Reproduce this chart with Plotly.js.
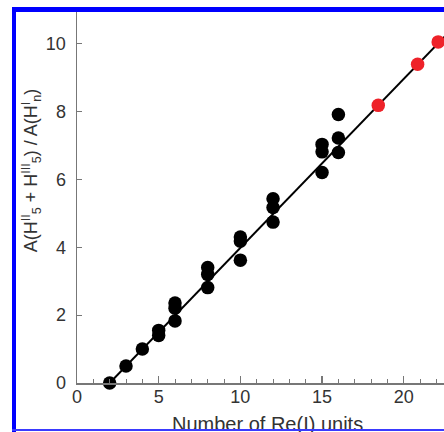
<!DOCTYPE html>
<html>
<head>
<meta charset="utf-8">
<script src="https://cdn.plot.ly/plotly-3.0.1.min.js"></script>
<style>
html, body { margin:0; padding:0; overflow:hidden; background:#fff; width:444px; height:432px; }
#plot { position:absolute; left:0; top:0; }
.bl { position:absolute; background:#0000ff; z-index:10; }
</style>
</head>
<body>
<div id="plot"></div>
<div class="bl" style="left:12px; top:7px; width:4px; height:425px;"></div>
<div class="bl" style="left:12px; top:7px; width:440px; height:5px;"></div>
<div class="bl" style="left:12px; top:429px; width:440px; height:2px; background:#3a3aff;"></div>
<script>
// Data
const blackX = [2, 3, 4, 5, 5, 6, 6, 6, 8, 8, 8, 10, 10, 10, 12, 12, 12, 15, 15, 15, 16, 16, 16];
const blackY = [0, 0.5, 1.0, 1.4, 1.55, 1.83, 2.2, 2.36, 2.81, 3.2, 3.4, 3.62, 4.18, 4.3, 4.74, 5.17, 5.43, 6.2, 6.81, 7.03, 6.79, 7.22, 7.91];
const redX = [18.44, 20.85, 22.11];
const redY = [8.18, 9.39, 10.05];
const fitX = [2, 23.3];
const fitY = [0, 10.6];
const xTickVals = [0, 5, 10, 15, 20];
const yTickVals = [0, 2, 4, 6, 8, 10];
const xTitle = 'Number of Re(I) units';
const yTitle = 'A(H<sup>II</sup><sub>5</sub> + H<sup>III</sup><sub>5</sub>) / A(H<sup>I</sup><sub>n</sub>)';

const fam = '"Liberation Sans", Arial, sans-serif';
const font = {family: fam, size: 18, color: '#333'};

const traces = [
  {x: fitX, y: fitY, mode: 'lines', line: {color: '#000', width: 2}, hoverinfo: 'skip', cliponaxis: false},
  {x: blackX, y: blackY, mode: 'markers', marker: {color: '#000', size: 13.5}, cliponaxis: false},
  {x: redX, y: redY, mode: 'markers', marker: {color: '#ee2229', size: 13.5}, cliponaxis: false}
];

const layout = {
  width: 470, height: 432,
  margin: {l: 77, r: 13, t: 11, b: 49},
  paper_bgcolor: '#fff', plot_bgcolor: '#fff',
  showlegend: false,
  font: font,
  xaxis: {
    range: [0, 23.26], showgrid: false, zeroline: false,
    showline: true, linecolor: '#777', linewidth: 1.5,
    ticks: 'inside', ticklen: 7, tickwidth: 1.2, tickcolor: '#777',
    tickvals: xTickVals, ticklabelstandoff: -3,
    minor: {dtick: 1, tick0: 0, ticks: 'inside', ticklen: 4, tickcolor: '#777', tickwidth: 1},
    tickfont: font,
    title: {text: ''}
  },
  yaxis: {
    range: [0, 10.96], showgrid: false, zeroline: false,
    showline: true, linecolor: '#777', linewidth: 1.5,
    ticks: 'inside', ticklen: 5, tickwidth: 1.2, tickcolor: '#777',
    tickvals: yTickVals, ticklabelstandoff: 6,
    tickfont: font,
    title: {text: ''}
  },
  annotations: [
    {text: xTitle, xref: 'paper', yref: 'paper', x: 0.5, y: -0.074, xanchor: 'center', yanchor: 'top',
     showarrow: false, font: {family: fam, size: 20, color: '#333'}},
    {text: yTitle, xref: 'paper', yref: 'paper', x: -0.121, y: 0.572, xanchor: 'center', yanchor: 'middle',
     textangle: -90, showarrow: false, font: {family: fam, size: 18, color: '#333'}}
  ]
};

Plotly.newPlot('plot', traces, layout, {displayModeBar: false, staticPlot: true});
</script>
</body>
</html>
